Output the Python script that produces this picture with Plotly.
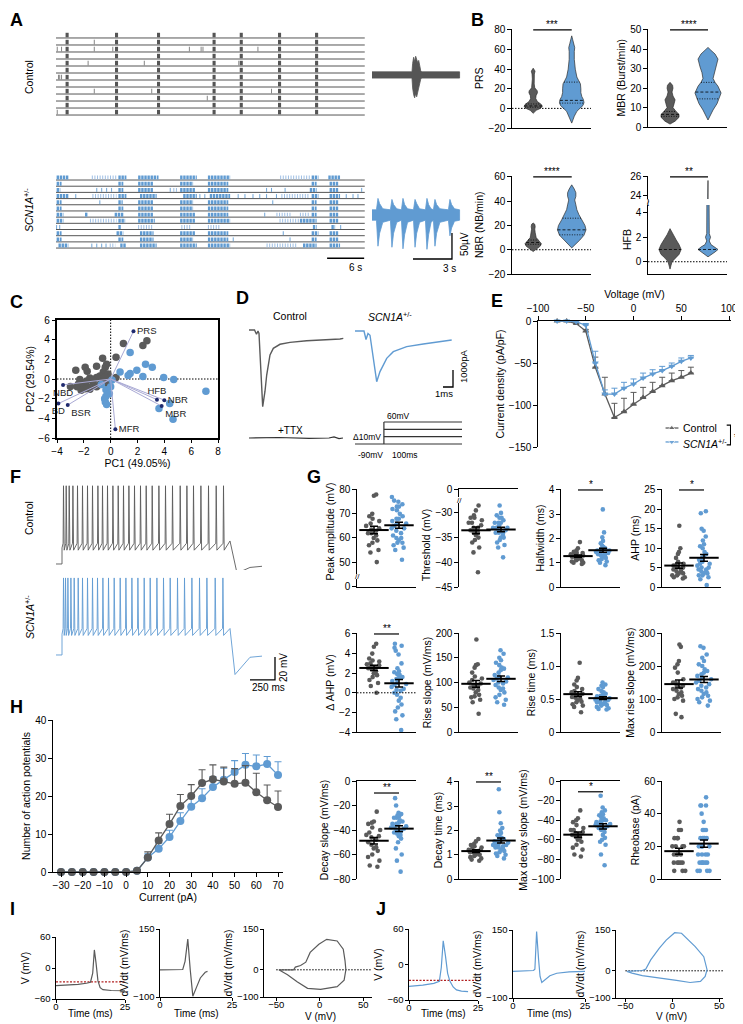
import numpy as np
import plotly.graph_objects as go

# reference picture size; the page body adds an 8 px margin, so the figure itself is
# 8 px smaller and every reference pixel position is shifted by OFF
REF_W, REF_H = 743, 1024
OFF = 8
W, H = REF_W - OFF, REF_H - OFF
GREY = "#5a5a5a"
BLUE = "#609bd2"
PALE = "#9fbfe4"
NAVY = "#1f2a6e"
LAVENDER = "#a9a9d4"
RED = "#b22222"
FONT = "Liberation Sans, Arial, sans-serif"
SCN = "<i>SCN1A</i><sup>+/-</sup>"

# ---------------- A: raster plots (time in s, one list per electrode row) ----------------
ctrl_burst_times = [1.8, 9.8, 16.6, 25.6, 30.0, 36.2, 42.2]
ctrl_extra_spikes = [
    [], [6.2], [0.2, 0.9, 6.2, 9.2, 21.6, 23.5, 23.8, 32.7], [], [5.2, 14.3, 29.6], [],
    [0.4, 0.6, 0.9], [], [6.2, 15.5, 34.9], [24.5], [], [0.2],
]
scn_dense = [
    [(0.1, 2.0), (10.1, 11.4), (13.3, 16.6), (20.1, 22.8), (24.6, 28.2), (41.4, 42.5), (44.1, 46.0)],
    [(0.1, 0.9), (10.1, 10.9), (13.3, 15.8), (20.1, 22.2), (24.6, 27.9), (41.4, 42.2), (44.3, 45.7)],
    [(0.1, 0.7), (10.1, 10.9), (13.3, 15.8), (20.1, 22.5), (24.6, 27.9), (41.1, 42.2), (44.3, 45.7)],
    [(0.1, 2.0), (10.1, 11.4), (13.6, 16.3), (20.6, 22.8), (24.9, 28.2), (41.4, 42.5), (44.3, 46.0)],
    [(0.1, 0.9), (10.1, 10.8), (13.3, 15.8), (20.1, 22.2), (24.6, 27.9), (41.4, 42.2), (44.3, 45.7)],
    [(0.1, 0.9), (10.1, 10.9), (13.3, 15.8), (20.1, 22.2), (24.6, 27.9), (41.4, 42.2), (44.3, 45.7)],
    [(0.1, 1.2), (4.7, 5.1), (9.5, 10.9), (13.3, 15.8), (20.1, 22.5), (24.6, 27.9), (41.4, 42.2), (44.3, 45.7)],
    [(0.1, 1.2), (10.1, 11.2), (13.3, 16.0), (20.1, 22.5), (24.6, 28.2), (39.5, 42.2), (44.3, 45.7)],
    [(10.1, 10.6), (41.6, 42.2), (44.6, 45.2)],
    [(0.1, 0.9), (9.8, 10.9), (13.6, 15.8), (20.1, 22.5), (24.6, 27.9), (41.4, 42.5), (44.3, 45.7)],
    [(0.1, 0.9), (10.1, 10.9), (13.6, 15.8), (20.1, 22.2), (24.6, 27.9), (41.4, 42.2), (44.3, 45.7)],
    [(0.4, 2.0), (10.4, 11.4), (13.6, 16.3), (20.1, 22.8), (24.6, 28.2), (40.0, 42.2), (44.3, 46.0)],
]
scn_sparse = [
    [(5.8, 9.8), (36.3, 41.1)], [], [(19.0, 19.8)], [(5.9, 9.8), (36.5, 41.1)], [], [],
    [(35.7, 38.1), (39.5, 41.1)], [(5.5, 9.8), (36.2, 39.5)],
    [(13.3, 15.8), (20.3, 21.9), (24.6, 26.5)], [], [], [(8.7, 9.6), (34.1, 39.0)],
]
scn_spikes = [
    [], [], [6.6, 7.4, 8.2, 9.0, 18.5, 34.1, 34.9, 37.1, 49.5],
    [3.2, 23.3, 24.1, 29.5, 30.6, 31.9, 33.0, 34.1, 35.7, 47.0, 48.1, 48.9],
    [7.1, 35.1], [], [33.8], [], [0.1, 0.6, 46.1], [36.8], [28.7, 37.9], [5.8, 6.6, 7.4, 8.1],
]
raster_len_s = 50.0

# A: example extracellular traces, envelope of the signal (time s, amplitude uV)
ctrl_trace_t = [0, 3.15, 3.2, 3.28, 3.36, 3.44, 3.52, 3.6, 3.68, 3.76, 3.84, 3.92, 6.9]
ctrl_trace_hi = [6, 6, 22, 34, 26, 36, 30, 24, 28, 14, 8, 6, 6]
ctrl_trace_lo = [-6, -6, -25, -38, -44, -36, -42, -30, -26, -16, -8, -6, -6]
scn_trace_t = [0, 0.35, 0.47, 0.6, 0.85, 1.45, 1.57, 1.7, 1.95, 2.32, 2.44, 2.57, 2.8, 3.27, 3.39,
               3.52, 3.75, 4.21, 4.33, 4.46, 4.65, 4.84, 4.96, 5.09, 5.35, 6.02, 6.14, 6.27, 6.5, 6.9]
scn_trace_hi = [10, 10, 32, 22, 12, 10, 30, 20, 12, 10, 32, 20, 12, 10, 30,
                22, 12, 10, 32, 20, 12, 10, 30, 20, 12, 10, 30, 20, 12, 10]
scn_trace_lo = [-10, -10, -60, -35, -14, -10, -62, -35, -14, -10, -65, -38, -14, -10, -62,
                -35, -14, -10, -66, -38, -14, -10, -60, -35, -14, -10, -40, -25, -12, -10]

# ---------------- B: violin profiles (value, relative density) ----------------
prs_ctrl_y = [-5, -2, 0, 2, 4, 7, 10, 13, 16, 18, 21, 25, 30, 35, 38, 41]
prs_ctrl_d = [0, .21, .5, .64, .57, .29, .18, .2, .3, .28, .11, .07, .06, .08, .13, 0]
prs_ctrl_q = (2.5, 1.2, 4.5)
prs_scn_y = [-15, -8, -3, 0, 3, 6, 9, 12, 16, 20, 25, 28, 32, 40, 50, 58, 62, 66, 70, 74]
prs_scn_d = [0, .18, .36, .57, .79, .86, .82, .71, .64, .64, .61, .5, .36, .25, .18, .18, .21, .14, .07, 0]
prs_scn_q = (8.2, 5.4, 26.8)
mbr_ctrl_y = [1.5, 3, 5, 6.5, 8, 10, 12, 14, 16, 18, 20, 21.5, 23]
mbr_ctrl_d = [0, .36, .64, .64, .43, .21, .29, .36, .21, .14, .21, .18, 0]
mbr_ctrl_q = (6.5, 5.5, 8.0)
mbr_scn_y = [3.6, 6, 8.8, 12, 14.5, 17.5, 21, 23, 25, 28, 31, 35, 37.6, 39.5, 41]
mbr_scn_d = [0, .14, .36, .64, .79, .93, .71, .5, .36, .43, .57, .71, .5, .21, 0]
mbr_scn_q = (18.0, 14.5, 23.0)
nbr_ctrl_y = [-1.5, 1, 3, 5, 7, 10, 12, 14, 17, 19, 21, 22]
nbr_ctrl_d = [0, .29, .5, .57, .43, .21, .18, .14, .11, .14, .11, 0]
nbr_ctrl_q = (6.0, 4.5, 8.0)
nbr_scn_y = [1.5, 4, 8, 12, 16.4, 20, 24.6, 29, 33, 37, 41, 44, 47, 50, 53.5]
nbr_scn_d = [0, .21, .57, .86, 1, .93, .71, .5, .36, .29, .21, .29, .29, .18, 0]
nbr_scn_q = (16.4, 12.3, 26.0)
hfb_ctrl_y = [-0.6, -0.3, 0, 0.3, 0.6, 1.0, 1.4, 1.8, 2.2, 2.7]
hfb_ctrl_d = [0, .07, .14, .36, .64, .79, .64, .43, .21, 0]
hfb_ctrl_q = (1.0,)
hfb_scn_y = [0.4, 0.6, 0.8, 1.0, 1.2, 1.4, 1.7, 2.0, 2.3, 3, 5, 10, 20, 25.6]
hfb_scn_d = [0, .21, .5, .71, .5, .21, .09, .18, .09, .06, .045, .045, .045, 0]
hfb_scn_q = (1.0,)

# ---------------- C: PCA ----------------
pca_ctrl_x = [0.95, 2.7, 2.4, 0.4, -0.6, -0.3, -0.4, -1.05, -1.9, -2.6, -1.75, -0.55, -0.2, -0.8, -1.05,
              -1.55, -2.3, 0.4, -2.4, -2.05, -2.5, -1.75, -1.3, -0.8, -0.2, -1.55, -1.9, -2.2, -0.7, -1.05,
              -1.3, -0.3, -0.4, -3.0, -1.8]
pca_ctrl_y = [3.6, 3.9, 3.4, 2.2, 2.1, 1.5, 1.2, 1.3, 1.2, 0.9, 0.8, 0.7, 0.5, 0.3, 0.15,
              0.1, -0.05, 0.15, -0.5, -0.55, -0.8, -0.8, -0.5, -0.55, -0.55, -1.05, -1.0, -1.15, -0.3, -0.8,
              -0.15, -0.15, 0.2, -0.75, -0.2]
pca_scn_x = [1.45, 2.6, 3.1, 1.95, 1.45, 1.3, 2.4, 0.7, 3.95, 4.7, 7.1, 4.4, 3.6, 4.65, -0.7,
             -0.35, 0.0, -0.1, -0.45, -0.4, -0.3, -0.35, 0.1]
pca_scn_y = [2.7, 1.5, 1.2, 0.9, 0.55, 0.35, 0.25, 0.7, 0.15, -0.05, -1.25, -2.5, -3.0, -4.1, -0.55,
             -1.1, -0.8, -1.5, -2.0, -2.35, -2.6, -1.75, -0.1]
load_names = ["PRS", "MFR", "HFB", "NBR", "MBR", "NBD", "BD", "BSR"]
load_x = [1.7, 0.35, 3.45, 4.0, 3.8, -3.55, -3.9, -3.2]
load_y = [4.85, -5.1, -2.1, -2.15, -2.75, -0.6, -2.5, -2.65]
load_pos = ["middle right", "middle right", "top center", "middle right", "bottom right",
            "bottom center", "bottom center", "bottom right"]

# ---------------- D: sodium currents (ms, pA) ----------------
d_ctrl_t = [0, 0.55, 0.75, 0.9, 1.0, 1.37, 1.6, 1.77, 2.1, 2.43, 3.1, 4.1, 5.77, 7.43, 9.1, 9.43]
d_ctrl_i = [0, 0, -250, -60, -200, -4510, -3600, -2650, -1470, -1080, -840, -725, -630, -590, -530, -490]
d_scn_t = [0, 0.9, 1.1, 1.3, 1.5, 2.17, 2.5, 3.17, 3.83, 5.17, 6.83, 8.5, 9.67]
d_scn_i = [0, 0, -500, -150, -250, -2980, -2390, -1607, -1215, -921, -764, -627, -529]
d_ttx_t = [0, 3, 6, 8, 8.5, 9, 9.4]
d_ttx_i = [0, 30, -20, 0, 60, -40, 0]
prot_levels = [-90, -40, 10, 60]
prot_start, prot_onset, prot_end = 0, 37, 137

# ---------------- E: I-V curve ----------------
e_v = [-80, -70, -60, -50, -40, -30, -20, -10, 0, 10, 20, 30, 40, 50, 60]
e_ctrl = [0, 0, -3, -12, -55, -87, -115, -108, -99, -91, -84, -77, -71, -67, -62]
e_ctrl_err = [0, 0, 1, 2, 12, 20, 17, 16, 14, 12, 11, 10, 9, 8, 7]
e_scn = [0, 0, -1, -5, -50, -87, -87, -80, -75, -68, -63, -59, -54, -48, -44]
e_scn_err = [0, 0, 1, 2, 14, 5, 7, 7, 6, 6, 5, 5, 4, 4, 3]

# ---------------- F: action potential trains (ms after step onset, mV) ----------------
f_ctrl_spikes = [13, 40, 70, 107, 153, 203, 253, 303, 357, 403, 453, 507, 560, 613, 667, 723, 783,
                 840, 900, 967, 1033, 1103, 1180, 1247, 1313, 1387, 1463, 1540, 1613]
f_scn_spikes = [13, 33, 57, 87, 120, 160, 203, 253, 303, 353, 407, 463, 520, 580, 637, 697, 757,
                820, 880, 947, 1013, 1080, 1153, 1223, 1297, 1373, 1447, 1530, 1607]
f_ctrl_levels = dict(rest=-70, plateau=-56, thr=-52, peak=-2, ahp=-58)
f_scn_levels = dict(rest=-70, plateau=-52, thr=-47, peak=-3, ahp=-53)
f_ctrl_post_t = [1680, 1750, 1880, 2000]
f_ctrl_post_v = [-50, -78, -73, -72]
f_scn_post_t = [1680, 1730, 1880, 2000]
f_scn_post_v = [-47, -87, -72, -71]

# ---------------- G: single-cell AP parameters ----------------
peak_ctrl = [78, 77.5, 70, 69, 68, 67, 66, 65, 64, 63.5, 63, 62, 62, 61, 60, 59, 58, 57, 55, 54, 50]
peak_scn = [77, 75.5, 75, 74, 73, 73, 72, 71.5, 70, 69, 68, 68, 67, 66, 66, 65, 64, 64, 63, 62,
            61, 60, 59, 58, 57, 55, 60, 58, 51, 56]
thr_ctrl = [-28.5, -29.5, -30.5, -31, -31.5, -32, -32, -32.5, -33, -33, -33.5, -34, -34, -34.5,
            -35, -35.5, -36, -37, -38, -42, -31]
thr_scn = [-28.5, -30, -30.5, -31, -31.5, -32, -32, -32.5, -33, -33, -33, -33.5, -34, -34, -34.5,
           -35, -35.5, -36, -36.5, -37, -39, -32, -31, -33.5, -34, -35]
hw_ctrl = [1.85, 1.6, 1.5, 1.45, 1.4, 1.35, 1.35, 1.3, 1.3, 1.25, 1.25, 1.2, 1.2, 1.15, 1.1, 1.1,
           1.05, 1.0, 1.0, 0.95, 1.4]
hw_scn = [3.2, 2.25, 2.05, 1.9, 1.8, 1.7, 1.65, 1.6, 1.6, 1.55, 1.5, 1.5, 1.5, 1.45, 1.45, 1.4,
          1.4, 1.35, 1.35, 1.3, 1.3, 1.25, 1.2, 1.15, 1.1, 1.05, 1.0, 0.9]
ahp_ctrl = [15.8, 10, 9, 8.5, 7.5, 6.5, 6, 5.5, 5.5, 5, 5, 4.5, 4.5, 4, 4, 3.5, 3.5, 3, 3, 2.5, 2.5, 2.2]
ahp_scn = [19.5, 19, 15, 14.5, 13, 12, 11, 10.5, 10, 9, 8.5, 8, 7.5, 7, 6.5, 6, 6, 5.5, 5, 5, 4.5,
           4.5, 4, 4, 3.5, 3.5, 3, 3, 2.5, 2, 0.5]
dahp_ctrl = [5.0, 4.7, 4.0, 3.5, 3.3, 3.2, 3.0, 2.9, 2.8, 2.7, 2.6, 2.5, 2.4, 2.2, 2.0, 1.8, 1.6,
             1.3, 1.0, 0.7, 0.0]
dahp_scn = [5.0, 4.8, 4.6, 4.3, 3.9, 3.0, 2.5, 2.2, 2.1, 1.9, 1.8, 1.6, 1.5, 1.4, 1.2, 1.0, 0.9,
            0.8, 0.6, 0.4, 0.3, 0.2, 0.0, -0.2, -0.5, -0.8, -1.2, -1.5, -1.9, -2.3, -2.7, -3.8]
rise_ctrl = [187, 137, 135, 130, 120, 112, 108, 105, 100, 98, 95, 93, 90, 88, 85, 80, 75, 72, 70, 65, 60, 37]
rise_scn = [165, 158, 150, 145, 140, 135, 130, 128, 125, 120, 115, 112, 110, 108, 105, 102, 100,
            98, 95, 90, 88, 85, 80, 75, 70, 65, 60, 55]
rt_ctrl = [1.05, 0.82, 0.78, 0.72, 0.68, 0.65, 0.62, 0.6, 0.58, 0.56, 0.55, 0.53, 0.52, 0.5, 0.48,
           0.46, 0.45, 0.42, 0.4, 0.38, 0.3]
rt_scn = [0.75, 0.72, 0.7, 0.68, 0.65, 0.62, 0.6, 0.58, 0.56, 0.55, 0.54, 0.52, 0.51, 0.5, 0.49,
          0.48, 0.47, 0.46, 0.45, 0.44, 0.43, 0.42, 0.41, 0.4, 0.38, 0.36, 0.35, 0.34]
mrs_ctrl = [265, 258, 215, 205, 195, 180, 160, 150, 150, 140, 140, 135, 130, 125, 120, 115, 110,
            105, 100, 95, 55, 45]
mrs_scn = [260, 255, 235, 225, 215, 205, 200, 190, 185, 180, 175, 170, 165, 160, 155, 150, 145,
           140, 135, 130, 125, 120, 115, 110, 105, 100, 95, 90, 80]
ds_ctrl = [-25, -33, -34, -35, -38, -40, -42, -44, -45, -46, -48, -50, -52, -54, -55, -57, -60,
           -62, -65, -69, -70]
ds_scn = [-14, -20, -26, -27, -28, -29, -30, -30, -32, -33, -34, -35, -35, -36, -37, -38, -38, -39,
          -40, -41, -42, -43, -44, -45, -47, -50, -55, -60, -65, -74]
dt_ctrl = [1.65, 1.55, 1.45, 1.4, 1.35, 1.3, 1.25, 1.2, 1.2, 1.15, 1.15, 1.1, 1.1, 1.05, 1.0, 1.0,
           0.95, 0.9, 0.85, 0.8, 0.75]
dt_scn = [3.7, 2.75, 2.3, 2.1, 2.0, 1.9, 1.8, 1.75, 1.7, 1.65, 1.6, 1.6, 1.55, 1.5, 1.5, 1.45,
          1.4, 1.4, 1.4, 1.35, 1.3, 1.3, 1.25, 1.2, 1.15, 1.1, 1.05, 1.0, 0.95, 0.85]
mds_ctrl = [-30, -38, -40, -42, -45, -48, -50, -50, -52, -53, -55, -55, -57, -58, -60, -62, -65,
            -68, -70, -75, -77]
mds_scn = [-15, -27, -30, -32, -34, -35, -37, -38, -40, -40, -41, -42, -43, -44, -45, -45, -46,
           -47, -48, -48, -50, -52, -55, -58, -60, -62, -65, -75, -86]
rb_ctrl = [35, 30, 30, 25, 25, 25, 20, 20, 20, 20, 15, 15, 15, 15, 10, 10, 10, 10, 10, 5, 5, 5]
rb_scn = [50, 45, 45, 45, 40, 35, 30, 30, 30, 25, 25, 25, 25, 25, 20, 20, 20, 20, 20, 15, 15, 15,
          15, 10, 10, 10, 10, 10, 10, 5, 5, 5, 5]

# ---------------- H: input-output curve ----------------
h_current = [-30, -25, -20, -15, -10, -5, 0, 5, 10, 15, 20, 25, 30, 35, 40, 45, 50, 55, 60, 65, 70]
h_ctrl = [0, 0, 0, 0, 0, 0, 0, 0.3, 3.8, 8.3, 12.6, 17.4, 20.0, 23.4, 24.4, 23.8, 23.2, 23.5, 21.0, 18.9, 17.1]
h_ctrl_err = [0, 0, 0, 0, 0, 0, 0, 0.3, 1.5, 2.0, 2.6, 3.0, 3.0, 3.5, 3.8, 3.8, 4.0, 4.5, 5.0, 4.0, 4.2]
h_scn = [0, 0, 0, 0, 0, 0, 0, 0.3, 3.8, 6.1, 9.2, 13.4, 17.2, 19.4, 22.4, 24.3, 26.3, 28.2, 27.8, 28.4, 25.5]
h_scn_err = [0, 0, 0, 0, 0, 0, 0, 0.2, 1.0, 1.5, 1.8, 2.2, 2.5, 2.5, 2.7, 3.0, 3.0, 3.0, 3.0, 2.0, 3.5]

# ---------------- I / J: single AP, dV/dt and phase plot ----------------
i_t = [0, 4, 8, 11, 12.5, 13.3, 13.9, 14.5, 15.2, 16, 17, 20, 25]
i_v = [-34, -33, -31.5, -29.5, -27.5, -10, 35, 10, -25, -38, -42, -43.5, -44]
i_dvdt_t = [0, 7.9, 8.7, 9.65, 10.5, 11.4, 12.8, 14.0, 15.7, 16.5]
i_dvdt = [0, 1, 31, 113, 0, -97, -61, -30, -9, -6]
i_phase_v = [-47, -30, -28, -22, -16, -11, -1, 8, 20, 27, 29, 30, 28, 20, 1, -14, -26, -37, -47]
i_phase_d = [0, 0, 10, 16, 28, 64, 94, 112, 106, 76, 34, 0, -38, -62, -72, -68, -44, -18, 0]
i_thr = -27
j_t = [0, 5, 9, 11, 11.7, 12.4, 13.2, 14.0, 14.8, 16, 17.2, 19, 21.4]
j_v = [-37, -35, -32, -28.6, -5, 40, 15, -15, -28, -38, -43, -45, -46]
j_dvdt_t = [0, 7.1, 7.6, 8.2, 8.9, 9.4, 10, 11, 12.8, 15.2, 19.5, 25]
j_dvdt = [-2, 1, 6, 144, 40, -21, -43, -35, -18, -9, -4, -2]
j_phase_v = [-48.4, -32, -28.4, -23, -13.8, -6.5, 2.5, 9.8, 24.4, 33.5, 37, 35, 30, 19, 4.4, -13.8, -32, -43, -48.4]
j_phase_d = [-2, 1, 6, 40, 83, 113, 140, 138, 89, 52, 4, -21, -39, -43, -35, -27, -18, -8.5, -2]
j_thr = -27

# =====================================================================
fig = go.Figure()
notes = []
_n = [0]

AXIS = dict(visible=True, showline=True, linecolor="black", linewidth=1.2, ticks="outside",
            ticklen=3.5, tickwidth=1.1, tickcolor="black",
            tickfont=dict(size=10, color="black", family=FONT))
TITLE_FONT = dict(size=10.5, color="black", family=FONT)


def axes(x0, x1, y0, y1, xr, yr, xs=None, ys=None, xt=None, yt=None):
    """x0..y1 are positions in the reference picture; converted to figure domain."""
    _n[0] += 1
    s = "" if _n[0] == 1 else str(_n[0])
    xd = [(x0 - OFF) / W, (x1 - OFF) / W]
    yd = [1 - (y1 - OFF) / H, 1 - (y0 - OFF) / H]
    xa = dict(domain=xd, range=xr, anchor="y" + s, visible=False,
              showgrid=False, zeroline=False, automargin=False, fixedrange=True)
    ya = dict(domain=yd, range=yr, anchor="x" + s, visible=False,
              showgrid=False, zeroline=False, automargin=False, fixedrange=True)
    if xs is not None:
        xa.update(AXIS)
        xa.update(xs)
        if xt:
            xa["title"] = dict(text=xt, font=TITLE_FONT, standoff=2)
    if ys is not None:
        ya.update(AXIS)
        ya.update(ys)
        if yt:
            ya["title"] = dict(text=yt, font=TITLE_FONT, standoff=2)
    fig.update_layout({"xaxis" + s: xa, "yaxis" + s: ya})
    ax = ("x" + s, "y" + s)
    # an empty trace so that the subplot (and its axes) is always drawn
    fig.add_trace(go.Scatter(x=[None], y=[None], mode="lines", xaxis=ax[0], yaxis=ax[1],
                             showlegend=False, hoverinfo="skip"))
    return ax


def add(tr, ax):
    tr.update(xaxis=ax[0], yaxis=ax[1], showlegend=False, hoverinfo="skip")
    fig.add_trace(tr)


def line(ax, x, y, color="black", width=1.0, dash=None):
    add(go.Scatter(x=x, y=y, mode="lines", line=dict(color=color, width=width, dash=dash)), ax)


def label(x, y, s, size=10, angle=0, xa="center", ya="middle", color="black"):
    notes.append(dict(x=(x - OFF) / W, y=1 - (y - OFF) / H, xref="paper", yref="paper", text=s,
                      showarrow=False, textangle=angle, xanchor=xa, yanchor=ya,
                      font=dict(size=size, color=color, family=FONT)))


def data_label(ax, x, y, s, size=10, yshift=0, xa="center", ya="bottom"):
    notes.append(dict(x=x, y=y, xref=ax[0], yref=ax[1], text=s, showarrow=False, yshift=yshift,
                      xanchor=xa, yanchor=ya, font=dict(size=size, color="black", family=FONT)))


def segs(pairs_x, pairs_y):
    xs, ys = [], []
    for (a, b), (c, d) in zip(pairs_x, pairs_y):
        xs += [a, b, None]
        ys += [c, d, None]
    return xs, ys


# ---------------- A ----------------
def raster(ax, nrows):
    xs, ys = segs([(0, raster_len_s)] * nrows, [(r, r) for r in range(nrows)])
    line(ax, xs, ys, color="#555555", width=1)


ax_a1 = axes(56, 366, 30, 120, [0, 50.2], [11.71, -1.14])
raster(ax_a1, 12)
bx, by = [], []
sx, sy = [], []
for r in range(12):
    for t in ctrl_burst_times:
        bx += [t - 0.25, t + 0.25, None]
        by += [r - 0.42, r - 0.42, None]
    for t in ctrl_extra_spikes[r]:
        sx += [t, t, None]
        sy += [r - 0.75, r - 0.08, None]
line(ax_a1, bx, by, color="#555555", width=4.5)
line(ax_a1, sx, sy, color="#777777", width=0.9)

ax_a2 = axes(56, 366, 170, 266, [0, 50.2], [13.9, -1.62])
raster(ax_a2, 12)
dx, dy, px_, py_, kx, ky = [], [], [], [], [], []
for r in range(12):
    for a, b in scn_dense[r]:
        dx += [a, b, None]
        dy += [r - 0.4, r - 0.4, None]
    for a, b in scn_sparse[r]:
        px_ += [a, b, None]
        py_ += [r - 0.4, r - 0.4, None]
    for t in scn_spikes[r]:
        kx += [t, t, None]
        ky += [r - 0.72, r - 0.08, None]
line(ax_a2, px_, py_, color=PALE, width=4, dash="1px,1.6px")
line(ax_a2, dx, dy, color=BLUE, width=4, dash="2.4px,0.7px")
line(ax_a2, kx, ky, color=BLUE, width=0.9)
line(ax_a2, [43.9, 49.9], [12.65, 12.65], width=1.3)
label(355, 267, "6 s", 10)

ax_a3 = axes(372, 462, 50, 102, [0, 7.09], [-52, 48])
add(go.Scatter(x=ctrl_trace_t + ctrl_trace_t[::-1], y=ctrl_trace_hi + ctrl_trace_lo[::-1],
               fill="toself", fillcolor="#555555", mode="lines", line=dict(color="#555555", width=0.8)), ax_a3)
ax_a4 = axes(372, 462, 195, 275, [0, 7.09], [-115.4, 38.5])
add(go.Scatter(x=scn_trace_t + scn_trace_t[::-1], y=scn_trace_hi + scn_trace_lo[::-1],
               fill="toself", fillcolor=BLUE, mode="lines", line=dict(color=BLUE, width=0.8)), ax_a4)
line(ax_a4, [3.23, 6.3, 6.3], [-84.6, -84.6, -34.6], width=1.3)
label(450, 268, "3 s", 10)
label(464, 244, "50µV", 10, angle=-90)

label(8, 8, "<b>A</b>", 18, xa="left", ya="top")
label(29, 77, "Control", 10.5, angle=-90)
label(29, 210, SCN, 10.5, angle=-90)

# ---------------- B ----------------
VW = 0.37


def violin(ax, xc, ys, dens, color, q):
    ys = np.array(ys, float)
    hw = np.array(dens, float) * VW
    add(go.Scatter(x=np.concatenate([xc - hw, (xc + hw)[::-1]]), y=np.concatenate([ys, ys[::-1]]),
                   fill="toself", fillcolor=color, mode="lines",
                   line=dict(color="#2e2e2e", width=0.7)), ax)
    for k, v in enumerate(q):
        w = np.interp(v, ys, hw)
        line(ax, [xc - w, xc + w], [v, v], width=0.8, dash="3px,2px" if k == 0 else "1px,1.5px")


def b_axes(x0, y0, y1, yr, tv, title, xr, xline=True):
    return axes(x0, x0 + 79, y0, y1, xr, yr,
                xs=dict(ticks="", showticklabels=False, visible=xline),
                ys=dict(tickvals=tv), yt=title)


def sig(ax, x0, x1, y, stars, size=10):
    line(ax, [x0, x1], [y, y], width=1.2)
    data_label(ax, (x0 + x1) / 2, y, stars, size=size, yshift=-2)


XR_L = [-0.55, 1.5]
XR_R = [-0.58, 1.5]
ax_b1 = b_axes(512, 28.5, 128, [-20, 81.5], [-20, 0, 20, 40, 60, 80], "PRS", XR_L)
line(ax_b1, XR_L, [0, 0], width=1, dash="1.5px,1.5px")
violin(ax_b1, 0, prs_ctrl_y, prs_ctrl_d, GREY, prs_ctrl_q)
violin(ax_b1, 1, prs_scn_y, prs_scn_d, BLUE, prs_scn_q)
sig(ax_b1, 0, 1, 80, "***")

ax_b2 = b_axes(648, 28.5, 127, [0, 50.75], [0, 10, 20, 30, 40, 50], "MBR (Burst/min)", XR_R)
violin(ax_b2, 0, mbr_ctrl_y, mbr_ctrl_d, GREY, mbr_ctrl_q)
violin(ax_b2, 1, mbr_scn_y, mbr_scn_d, BLUE, mbr_scn_q)
sig(ax_b2, 0, 1, 50, "****")

ax_b3 = b_axes(512, 175.5, 274, [-20, 61.2], [-20, 0, 20, 40, 60], "NBR (NB/min)", XR_L)
line(ax_b3, XR_L, [0, 0], width=1, dash="1.5px,1.5px")
violin(ax_b3, 0, nbr_ctrl_y, nbr_ctrl_d, GREY, nbr_ctrl_q)
violin(ax_b3, 1, nbr_scn_y, nbr_scn_d, BLUE, nbr_scn_q)
sig(ax_b3, 0, 1, 60, "****")

ax_b4 = b_axes(648, 205, 274, [-1, 4.63], [0, 2, 4], "HFB", XR_R)
line(ax_b4, XR_R, [0, 0], width=1, dash="1.5px,1.5px")
violin(ax_b4, 0, hfb_ctrl_y, hfb_ctrl_d, GREY, hfb_ctrl_q)
violin(ax_b4, 1, hfb_scn_y, hfb_scn_d, BLUE, hfb_scn_q)
ax_b5 = axes(648, 727, 175.5, 199, XR_R, [23.56, 26.15], ys=dict(tickvals=[24, 26]))
violin(ax_b5, 1, hfb_scn_y, hfb_scn_d, BLUE, ())
sig(ax_b5, 0, 1, 26, "**")
label(648, 202, "≀", 11)
label(469, 8, "<b>B</b>", 18, xa="left", ya="top")

# ---------------- C ----------------
ax_c = axes(57, 218, 320, 438, [-4, 8], [-6, 6],
            xs=dict(dtick=2, mirror=True, linewidth=1.5), ys=dict(dtick=2, mirror=True, linewidth=1.5),
            xt="PC1 (49.05%)", yt="PC2 (29.54%)")
line(ax_c, [-4, 8], [0, 0], width=1, dash="1.5px,1.5px")
line(ax_c, [0, 0], [-6, 6], width=1, dash="1.5px,1.5px")
add(go.Scatter(x=pca_ctrl_x, y=pca_ctrl_y, mode="markers", marker=dict(color=GREY, size=7.5)), ax_c)
add(go.Scatter(x=pca_scn_x, y=pca_scn_y, mode="markers", marker=dict(color=BLUE, size=7.5)), ax_c)
lx, ly = segs([(0, x) for x in load_x], [(0, y) for y in load_y])
line(ax_c, lx, ly, color=LAVENDER, width=1)
add(go.Scatter(x=load_x, y=load_y, mode="markers+text", text=load_names, textposition=load_pos,
               textfont=dict(size=9.5, color="#222222", family=FONT), cliponaxis=False,
               marker=dict(color=NAVY, size=4)), ax_c)
label(8, 302, "<b>C</b>", 18, xa="left")

# ---------------- D ----------------
ax_d1 = axes(249, 345, 320, 415, [0, 9.6], [-5000, 588])
line(ax_d1, d_ctrl_t, d_ctrl_i, color=GREY, width=1.4)
ax_d2 = axes(355, 462, 320, 415, [0, 10.7], [-4941, 647])
line(ax_d2, d_scn_t, d_scn_i, color=BLUE, width=1.4)
line(ax_d2, [8.8, 9.8, 9.8], [-3294, -3294, -2294], width=1.3)
ax_d3 = axes(249, 345, 425, 450, [0, 9.6], [-706, 765])
line(ax_d3, d_ttx_t, d_ttx_i, color="#333333", width=1.2)
ax_d4 = axes(355, 462, 412, 452, [0, 137], [-144.5, 128])
px2, py2 = segs([(prot_start, prot_end)] + [(prot_onset, prot_end)] * 3 + [(prot_onset, prot_onset)],
                [(prot_levels[0], prot_levels[0])] + [(v, v) for v in prot_levels[1:]] +
                [(prot_levels[0], prot_levels[-1])])
line(ax_d4, px2, py2, color="#333333", width=1.2)
label(290, 316, "Control", 10.5)
label(390, 316, SCN, 10.5)
label(444, 393, "1ms", 9.5)
label(463, 367, "1000pA", 9.5, angle=-90)
label(290, 431, "+TTX", 10)
label(398, 416, "60mV", 8.5)
label(383, 437, "Δ10mV", 8.5, xa="right")
label(370, 455, "-90mV", 8.5)
label(405, 455, "100ms", 8.5)
label(242, 298, "<b>D</b>", 18)

# ---------------- E ----------------
ax_e = axes(538, 731, 321, 447, [-100, 102], [-150, 0],
            xs=dict(side="top", tickvals=[-100, -50, 0, 50, 100]),
            ys=dict(tickvals=[0, -50, -100, -150]),
            xt="Voltage (mV)", yt="Current density (pA/pF)")
zeros = [0] * len(e_v)
add(go.Scatter(x=e_v, y=e_ctrl, mode="lines+markers", line=dict(color=GREY, width=1.3),
               marker=dict(symbol="triangle-up", size=6, color=GREY), cliponaxis=False,
               error_y=dict(type="data", symmetric=False, array=e_ctrl_err, arrayminus=zeros,
                            width=3, thickness=1, color=GREY)), ax_e)
add(go.Scatter(x=e_v, y=e_scn, mode="lines+markers", line=dict(color=BLUE, width=1.3),
               marker=dict(symbol="triangle-down", size=6, color=BLUE), cliponaxis=False,
               error_y=dict(type="data", symmetric=False, array=e_scn_err, arrayminus=zeros,
                            width=3, thickness=1, color=BLUE)), ax_e)
add(go.Scatter(x=[33.5, 40, 47], y=[-127.4] * 3, mode="lines+markers", line=dict(color=GREY, width=1.3),
               marker=dict(symbol="triangle-up", size=[0, 6, 0], color=GREY)), ax_e)
add(go.Scatter(x=[33.5, 40, 47], y=[-144] * 3, mode="lines+markers", line=dict(color=BLUE, width=1.3),
               marker=dict(symbol="triangle-down", size=[0, 6, 0], color=BLUE)), ax_e)
line(ax_e, [97.5, 101.5, 101.5, 97.5], [-124, -124, -147.5, -147.5], width=1.1)
label(681, 428, "Control", 10.5, xa="left")
label(681, 443, SCN, 10.5, xa="left")
label(736, 437, "*", 10)
label(497, 301, "<b>E</b>", 18)


# ---------------- F ----------------
def ap_train(spikes, lv, post_t, post_v):
    t = [-60, 0, 0.1]
    v = [lv["rest"], lv["rest"], lv["plateau"]]
    for s in spikes:
        t += [s - 2, s + 2, s + 9]
        v += [lv["thr"], lv["peak"], lv["ahp"]]
    return t + post_t, v + post_v


ax_f1 = axes(56, 300, 480, 600, [-60, 2380], [-101.3, 3.0])
t_, v_ = ap_train(f_ctrl_spikes, f_ctrl_levels, f_ctrl_post_t, f_ctrl_post_v)
line(ax_f1, t_, v_, color=GREY, width=0.9)
ax_f2 = axes(56, 300, 570, 695, [-60, 2380], [-104.8, 3.9])
t_, v_ = ap_train(f_scn_spikes, f_scn_levels, f_scn_post_t, f_scn_post_v)
line(ax_f2, t_, v_, color=BLUE, width=0.9)
line(ax_f2, [1880, 2130, 2130], [-91.7, -91.7, -71.7], width=1.3)
label(268, 687, "250 ms", 10)
label(283, 668, "20 mV", 10, angle=-90)
label(29, 518, "Control", 10.5, angle=-90)
label(29, 617, SCN, 10.5, angle=-90)
label(8, 477, "<b>F</b>", 18, xa="left")

# ---------------- G ----------------
G_COLS = [357, 459, 561, 662]
G_ROWS = [(489, 587), (633, 732), (781, 879)]
G_XR = [-0.68, 1.68]
G_W = 59


def dots(ax, c, b):
    for k, (vals, col) in enumerate([(c, GREY), (b, BLUE)]):
        add(go.Box(x=[k] * len(vals), y=vals, boxpoints="all", jitter=0.9, pointpos=0, width=0.72,
                   fillcolor="rgba(0,0,0,0)", line=dict(color="rgba(0,0,0,0)", width=0),
                   marker=dict(color=col, size=4.6)), ax)
    for k, vals in enumerate([c, b]):
        v = np.array(vals, float)
        m = v.mean()
        se = v.std(ddof=1) / np.sqrt(len(v))
        add(go.Scatter(x=[k], y=[m], mode="markers", cliponaxis=False,
                       marker=dict(symbol="line-ew", size=21, line=dict(width=2, color="black")),
                       error_y=dict(type="data", array=[se], width=4, thickness=1.5, color="black")), ax)


def g_panel(col, row, title, c, b, yr, tv, tt=None, top=False, zero=False, sig_y=None, stars=None):
    x0 = G_COLS[col]
    y0, y1 = G_ROWS[row]
    ax = axes(x0, x0 + G_W, y0, y1, G_XR, yr,
              xs=dict(ticks="", showticklabels=False, side="top" if top else "bottom"),
              ys=dict(tickvals=tv, ticktext=tt), yt=title)
    if zero:
        line(ax, G_XR, [0, 0], width=1, dash="1.5px,1.5px")
    dots(ax, c, b)
    if stars:
        sig(ax, 0, 1, sig_y, stars, size=10)
    return ax


# peak amplitude, broken axis
x0 = G_COLS[0]
ax_g1 = axes(x0, x0 + G_W, 489, 574, G_XR, [45.07, 80.3], ys=dict(tickvals=[50, 60, 70, 80]),
             yt="Peak amplitude (mV)")
dots(ax_g1, peak_ctrl, peak_scn)
axes(x0, x0 + G_W, 579, 587, G_XR, [-0.05, 3.3], xs=dict(ticks="", showticklabels=False),
     ys=dict(tickvals=[0]))
label(x0, 576.5, "//", 8)
# threshold, broken axis with zero on top
x0 = G_COLS[1]
axes(x0, x0 + G_W, 489, 497, G_XR, [-1.6, 0.02], xs=dict(ticks="", showticklabels=False, side="top"),
     ys=dict(tickvals=[0]))
ax_g2 = axes(x0, x0 + G_W, 503, 587, G_XR, [-45, -28.0], ys=dict(tickvals=[-45, -40, -35, -30]),
             yt="Threshold (mV)")
dots(ax_g2, thr_ctrl, thr_scn)
label(x0, 500, "//", 8)

g_panel(2, 0, "Halfwidth (ms)", hw_ctrl, hw_scn, [0, 4.04], [0, 1, 2, 3, 4], sig_y=4, stars="*")
g_panel(3, 0, "AHP (ms)", ahp_ctrl, ahp_scn, [0, 25.25], [0, 5, 10, 15, 20, 25], sig_y=25, stars="*")
g_panel(0, 1, "Δ AHP (mV)", dahp_ctrl, dahp_scn, [-4, 6.1], [-4, -2, 0, 2, 4, 6], zero=True,
        sig_y=6, stars="**")
g_panel(1, 1, "Rise slope (mV/ms)", rise_ctrl, rise_scn, [0, 200], [0, 50, 100, 150, 200])
g_panel(2, 1, "Rise time (ms)", rt_ctrl, rt_scn, [0, 1.5], [0, 0.5, 1.0, 1.5], tt=["0", "0.5", "1.0", "1.5"])
g_panel(3, 1, "Max rise slope (mV/ms)", mrs_ctrl, mrs_scn, [0, 300], [0, 100, 200, 300])
g_panel(0, 2, "Decay slope (mV/ms)", ds_ctrl, ds_scn, [-80, 0], [0, -20, -40, -60, -80], top=True,
        sig_y=-9.8, stars="**")
g_panel(1, 2, "Decay time (ms)", dt_ctrl, dt_scn, [0, 4.04], [0, 1, 2, 3, 4], sig_y=4, stars="**")
g_panel(2, 2, "Max decay slope (mV/ms)", mds_ctrl, mds_scn, [-100, 0], [0, -20, -40, -60, -80, -100],
        top=True, sig_y=-11, stars="*")
g_panel(3, 2, "Rheobase (pA)", rb_ctrl, rb_scn, [0, 60], [0, 20, 40, 60])
label(314, 477, "<b>G</b>", 18)

# ---------------- H ----------------
ax_h = axes(53, 283, 720, 872, [-33.7, 72.3], [0, 40],
            xs=dict(tickvals=list(range(-30, 71, 10))), ys=dict(tickvals=[0, 10, 20, 30, 40]),
            xt="Current (pA)", yt="Number of action potentials")
hz = [0] * len(h_current)
add(go.Scatter(x=h_current, y=h_scn, mode="lines+markers", cliponaxis=False,
               line=dict(color=BLUE, width=1.3), marker=dict(size=8, color=BLUE),
               error_y=dict(type="data", symmetric=False, array=h_scn_err, arrayminus=hz,
                            width=3.5, thickness=1.1, color=BLUE)), ax_h)
add(go.Scatter(x=h_current, y=h_ctrl, mode="lines+markers", cliponaxis=False,
               line=dict(color=GREY, width=1.3), marker=dict(size=8, color=GREY),
               error_y=dict(type="data", symmetric=False, array=h_ctrl_err, arrayminus=hz,
                            width=3.5, thickness=1.1, color=GREY)), ax_h)
label(8, 707, "<b>H</b>", 18, xa="left")

# ---------------- I / J ----------------
SMALL = dict(ticklen=2.5, tickfont=dict(size=9.5, color="black", family=FONT))
SMALL_X = dict(SMALL, ticklabelstandoff=-4)


def ap_row(xs, color, t, v, thr, dt_t, dv, ph_v, ph_d, v_dom, d_dom, p_w, p_xr):
    a1 = axes(xs[0], xs[0] + 69, v_dom[0], v_dom[1], [0, 25], [-60, 60],
              xs=dict(tickvals=[0, 25], **SMALL_X), ys=dict(tickvals=[-60, 0, 60], **SMALL), yt="V (mV)")
    line(a1, [0, 25], [thr, thr], color=RED, width=1.3, dash="2px,1.5px")
    line(a1, t, v, color=color, width=1.2)
    a2 = axes(xs[1], xs[1] + 72, d_dom[0], d_dom[1], [0, 25], [-100, 150],
              xs=dict(tickvals=[0, 25], **SMALL_X), ys=dict(tickvals=[-100, 150], **SMALL), yt="dV/dt (mV/ms)")
    line(a2, dt_t, dv, color=color, width=1.2)
    a3 = axes(xs[2], xs[2] + p_w, d_dom[0], d_dom[1], p_xr, [-100, 150],
              xs=dict(tickvals=[-50, 0, 50], **SMALL_X), ys=dict(tickvals=[-100, 0, 150], **SMALL),
              yt="dV/dt (mV/ms)")
    line(a3, [-50, p_xr[1]], [0, 0], width=1, dash="1.5px,1.5px")
    line(a3, ph_v, ph_d, color=color, width=1.2)
    label(xs[0] + 34, 1013, "Time (ms)", 10)
    label(xs[1] + 36, 1013, "Time (ms)", 10)
    label(xs[2] + p_w / 2 + 2, 1016, "V (mV)", 10)


ap_row((56, 160, 264), GREY, i_t, i_v, i_thr, i_dvdt_t, i_dvdt, i_phase_v, i_phase_d,
       (937, 999), (929, 997), 108, [-64, 60])
ap_row((409, 513, 616), BLUE, j_t, j_v, j_thr, j_dvdt_t, j_dvdt, j_phase_v, j_phase_d,
       (929, 1000), (930, 998), 107, [-60, 54])
label(8, 909, "<b>I</b>", 18, xa="left")
label(374, 909, "<b>J</b>", 18, xa="left")

fig.update_layout(width=W, height=H, margin=dict(l=0, r=0, t=0, b=0), template="none",
                  plot_bgcolor="white", paper_bgcolor="white", showlegend=False,
                  font=dict(family=FONT, size=10, color="black"), annotations=notes)
fig.write_html("out.html")
